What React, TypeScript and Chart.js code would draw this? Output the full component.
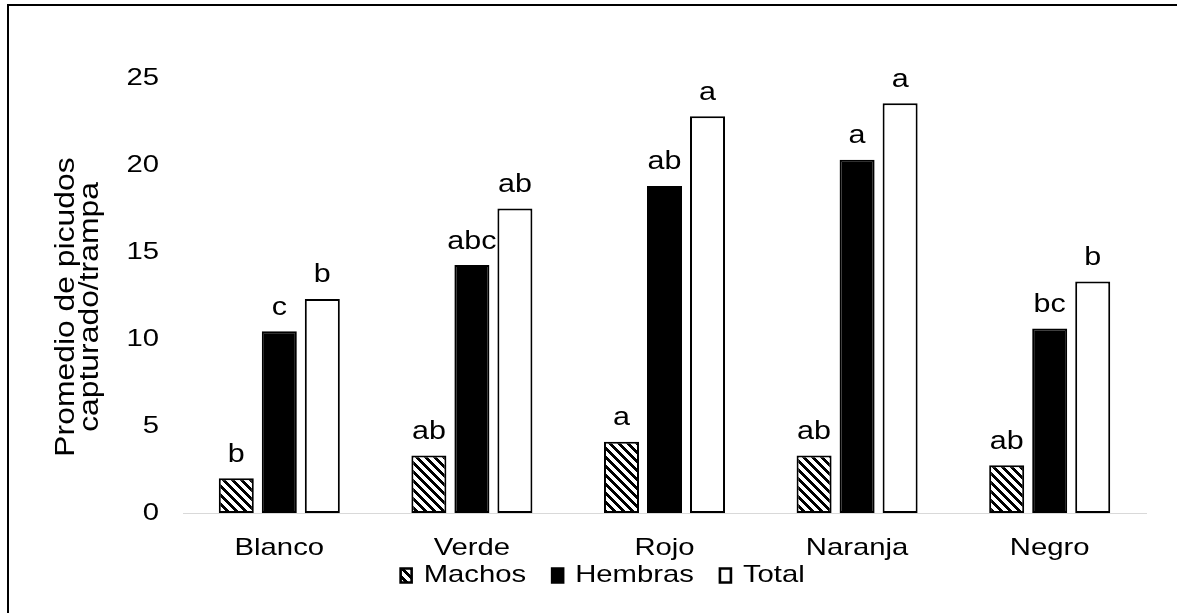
import React, { useEffect, useRef } from 'react';
import { Chart, registerables } from 'chart.js';

Chart.register(...registerables);

// ---- data ----
const categories = ['Blanco', 'Verde', 'Rojo', 'Naranja', 'Negro'];
const seriesNames = ['Machos', 'Hembras', 'Total'];
const machos = [2.0, 3.3, 4.1, 3.3, 2.75];
const hembras = [10.45, 14.25, 18.8, 20.3, 10.6];
const total = [12.3, 17.5, 22.8, 23.55, 13.3];
const machosLetters = ['b', 'ab', 'a', 'ab', 'ab'];
const hembrasLetters = ['c', 'abc', 'ab', 'a', 'bc'];
const totalLetters = ['b', 'ab', 'a', 'a', 'b'];
const yMin = 0;
const yMax = 25;
const yStep = 5;
const yTitleLines = ['Promedio de picudos', 'capturado/trampa'];

const FAMILY = '"Liberation Sans", Arial, Helvetica, sans-serif';
const BASE_SX = 1.22; // horizontal text stretch seen in the reference
const TITLE_SX = 1.18;
let textSX = BASE_SX;

function makeHatch(ctx: CanvasRenderingContext2D) {
  const n = 9;
  const c = document.createElement('canvas');
  c.width = n;
  c.height = n;
  const g = c.getContext('2d')!;
  g.fillStyle = '#fff';
  g.fillRect(0, 0, n, n);
  g.fillStyle = '#000';
  for (let y = 0; y < n; y++) {
    for (let x = 0; x < n; x++) {
      if ((((x - y) % n) + n) % n < 4) g.fillRect(x, y, 1, 1);
    }
  }
  return ctx.createPattern(c, 'repeat');
}

function stretchText(ctx: CanvasRenderingContext2D) {
  const of = ctx.fillText.bind(ctx);
  const om = ctx.measureText.bind(ctx);
  (ctx as any).fillText = (t: string, x: number, y: number, mw?: number) => {
    ctx.save();
    ctx.translate(x, y);
    ctx.scale(textSX, 1);
    if (mw === undefined || mw === null) of(t, 0, 0);
    else of(t, 0, 0, mw / textSX);
    ctx.restore();
  };
  (ctx as any).measureText = (t: string) => {
    const m = om(t);
    return {
      width: m.width * textSX,
      actualBoundingBoxLeft: m.actualBoundingBoxLeft * textSX,
      actualBoundingBoxRight: m.actualBoundingBoxRight * textSX,
      actualBoundingBoxAscent: m.actualBoundingBoxAscent,
      actualBoundingBoxDescent: m.actualBoundingBoxDescent,
      fontBoundingBoxAscent: m.fontBoundingBoxAscent,
      fontBoundingBoxDescent: m.fontBoundingBoxDescent,
    } as TextMetrics;
  };
}

const letters = [machosLetters, hembrasLetters, totalLetters];

const letterPlugin = {
  id: 'letters',
  afterDatasetsDraw(chart: any) {
    const ctx = chart.ctx as CanvasRenderingContext2D;
    ctx.save();
    ctx.font = `25px ${FAMILY}`;
    ctx.fillStyle = '#000';
    ctx.textAlign = 'center';
    ctx.textBaseline = 'alphabetic';
    chart.data.datasets.forEach((_: any, i: number) => {
      const meta = chart.getDatasetMeta(i);
      meta.data.forEach((el: any, j: number) => {
        ctx.fillText(letters[i][j], el.x, el.y - 16.5);
      });
    });
    ctx.restore();
  },
};

const yTitlePlugin = {
  id: 'yTitle',
  afterDraw(chart: any) {
    const ctx = chart.ctx as CanvasRenderingContext2D;
    ctx.save();
    textSX = TITLE_SX;
    ctx.font = `27px ${FAMILY}`;
    ctx.fillStyle = '#000';
    ctx.textAlign = 'center';
    ctx.textBaseline = 'middle';
    ctx.translate(58, 301);
    ctx.rotate(-Math.PI / 2);
    yTitleLines.forEach((line, i) => ctx.fillText(line, 0, i * 24));
    textSX = BASE_SX;
    ctx.restore();
  },
};

// keep the x tick labels from being clipped to the (short) axis box
const unclipPlugin = {
  id: 'unclip',
  afterLayout(chart: any) {
    chart.scales.x.bottom = chart.height;
  },
};

export default function App() {
  const ref = useRef<HTMLCanvasElement | null>(null);

  useEffect(() => {
    const canvas = ref.current!;
    const ctx = canvas.getContext('2d')!;
    stretchText(ctx);
    const hatch = makeHatch(ctx);
    Chart.defaults.font.family = FAMILY;
    const defaultLabels = Chart.defaults.plugins.legend.labels.generateLabels;
    const chart = new Chart(canvas, {
      type: 'bar',
      data: {
        labels: categories,
        datasets: [
          { label: seriesNames[0], data: machos, backgroundColor: hatch as any, borderColor: '#000', borderWidth: 2, borderSkipped: false },
          { label: seriesNames[1], data: hembras, backgroundColor: '#000', borderColor: '#000', borderWidth: 2, borderSkipped: false },
          { label: seriesNames[2], data: total, backgroundColor: '#fff', borderColor: '#000', borderWidth: 2, borderSkipped: false },
        ],
      },
      options: {
        animation: false,
        responsive: false,
        devicePixelRatio: 1,
        layout: { padding: { left: 50.4, right: 31, top: 72, bottom: 15.5 } },
        datasets: { bar: { categoryPercentage: 0.67, barPercentage: 0.814 } },
        scales: {
          x: {
            grid: { display: false, drawTicks: false },
            border: { display: true, color: '#d9d9d9', width: 1 },
            ticks: { padding: 21, color: '#000', font: { size: 24 }, maxRotation: 0, autoSkip: false },
            afterFit: (s: any) => { s.height = 24.5; },
          },
          y: {
            min: yMin,
            max: yMax,
            ticks: { stepSize: yStep, padding: 24, color: '#000', font: { size: 24 } },
            grid: { display: false, drawTicks: false },
            border: { display: false },
            afterFit: (s: any) => { s.width = 123.6; },
          },
        },
        plugins: {
          legend: {
            position: 'bottom',
            labels: {
              boxWidth: 11,
              boxHeight: 14,
              padding: 26,
              color: '#000',
              font: { size: 24 },
              generateLabels: (c: any) =>
                defaultLabels(c).map((l: any) => ({ ...l, lineWidth: 2.6 })),
            },
          },
          tooltip: { enabled: false },
        },
      },
      plugins: [letterPlugin, yTitlePlugin, unclipPlugin],
    });
    return () => chart.destroy();
  }, []);

  return (
    <>
      <div
        style={{
          position: 'absolute', left: 7, top: 4, width: 1170, height: 609,
          borderLeft: '2px solid #000', borderTop: '2px solid #000', boxSizing: 'border-box',
        }}
      />
      <canvas
        ref={ref}
        width={1168}
        height={607}
        style={{ position: 'absolute', left: 9, top: 6, width: 1168, height: 607 }}
      />
    </>
  );
}
